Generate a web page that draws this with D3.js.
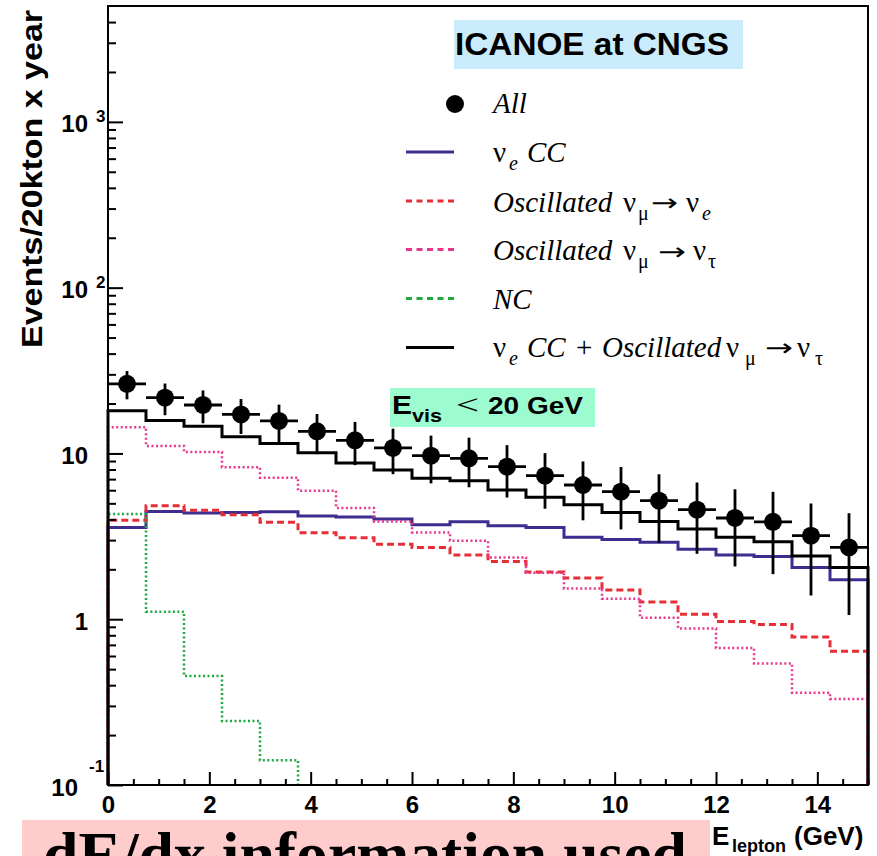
<!DOCTYPE html>
<html>
<head>
<meta charset="utf-8">
<script src="https://cdn.jsdelivr.net/npm/d3@7"></script>
<style>
  html, body { margin: 0; padding: 0; background: #fff; }
  svg { display: block; }
</style>
</head>
<body>
<script>
// ---------------- DATA ----------------
const binEdges = [0, 0.75, 1.5, 2.25, 3, 3.75, 4.5, 5.25, 6, 6.75, 7.5, 8.25, 9, 9.75, 10.5, 11.25, 12, 12.75, 13.5, 14.25, 15];
const allValues = [26.3, 21.7, 19.6, 17.2, 15.7, 13.6, 12.0, 10.8, 9.7, 9.35, 8.32, 7.34, 6.45, 5.88, 5.19, 4.58, 4.08, 3.87, 3.19, 2.71];
const allErrors = [5.1, 4.7, 4.4, 4.1, 4.0, 3.7, 3.5, 3.3, 3.1, 3.1, 2.9, 2.7, 2.5, 2.4, 2.3, 2.1, 2.0, 2.0, 1.8, 1.65];
const nueCC = [3.58, 4.47, 4.37, 4.41, 4.45, 4.19, 4.13, 4.02, 3.71, 3.87, 3.66, 3.58, 3.12, 3.03, 2.91, 2.64, 2.44, 2.39, 2.05, 1.73];
const oscNumuNue = [3.95, 4.84, 4.54, 4.27, 3.84, 3.32, 3.10, 2.83, 2.71, 2.44, 2.23, 1.93, 1.77, 1.50, 1.27, 1.07, 0.97, 0.93, 0.78, 0.64];
const oscNumuNutau = [14.4, 11.1, 10.2, 8.25, 7.14, 5.96, 4.69, 3.89, 3.34, 2.97, 2.36, 1.91, 1.53, 1.33, 1.02, 0.88, 0.67, 0.54, 0.36, 0.33];
const ncValues = [4.31, 1.11, 0.454, 0.243, 0.141, 0, 0, 0, 0, 0, 0, 0, 0, 0, 0, 0, 0, 0, 0, 0];
const nueCCplusNutau = [18.1, 15.8, 14.6, 12.6, 11.5, 10.1, 8.76, 7.95, 7.08, 6.85, 6.02, 5.44, 4.91, 4.41, 3.89, 3.50, 3.12, 2.93, 2.41, 2.05];

const xTickValues = [0, 2, 4, 6, 8, 10, 12, 14];
const xTickLabels = ["0", "2", "4", "6", "8", "10", "12", "14"];
const yTickValues = [0.1, 1, 10, 100, 1000];
const yTickBase = ["10", "1", "10", "10", "10"];
const yTickExp = ["-1", "", "", "2", "3"];

const titleText = "ICANOE at CNGS";
const yAxisTitle = "Events/20kton x year";
const bottomText = "dE/dx information used";

// ---------------- LAYOUT ----------------
const W = 877, H = 856;
const SANS = "'Liberation Sans', Arial, Helvetica, sans-serif";
const SERIF = "'Liberation Serif', 'Times New Roman', serif";
const pL = 108, pR = 868, pT = 6, pB = 785;

const svg = d3.select("body").append("svg")
  .attr("width", W).attr("height", H)
  .attr("viewBox", `0 0 ${W} ${H}`);
svg.append("rect").attr("width", W).attr("height", H).attr("fill", "#fff");

const x = d3.scaleLinear().domain([0, 15]).range([pL, pR]);
const y = d3.scaleLog().domain([0.1, 5000]).range([pB, pT]);
const yv = v => v > 0 ? y(v) : pB + 30;

svg.append("defs").append("clipPath").attr("id", "plotclip")
  .append("rect").attr("x", pL - 2).attr("y", pT).attr("width", pR - pL + 4).attr("height", pB - pT);

// ---------------- HISTOGRAMS ----------------
function histPoints(vals) {
  const pts = [[x(binEdges[0]), pB + 30]];
  vals.forEach((v, i) => {
    pts.push([x(binEdges[i]), yv(v)]);
    pts.push([x(binEdges[i + 1]), yv(v)]);
  });
  pts.push([x(binEdges[binEdges.length - 1]), pB + 30]);
  return pts;
}
const line = d3.line();
const plot = svg.append("g").attr("clip-path", "url(#plotclip)");

const series = [
  { vals: nueCC, color: "#3f2c8e", width: 3, dash: null },
  { vals: oscNumuNue, color: "#e62e36", width: 3, dash: "7,4" },
  { vals: oscNumuNutau, color: "#e8358e", width: 2.5, dash: "2,2.5" },
  { vals: ncValues, color: "#1fa83f", width: 2.5, dash: "2,2.5" },
  { vals: nueCCplusNutau, color: "#000", width: 3, dash: null }
];
series.forEach(s => {
  plot.append("path")
    .attr("d", line(histPoints(s.vals)))
    .attr("fill", "none")
    .attr("stroke", s.color)
    .attr("stroke-width", s.width)
    .attr("stroke-dasharray", s.dash)
    .attr("stroke-linejoin", "miter");
});

// ---------------- DATA POINTS ----------------
const ptsG = plot.append("g");
allValues.forEach((v, i) => {
  const lo = binEdges[i], hi = binEdges[i + 1], c = (lo + hi) / 2;
  ptsG.append("line").attr("x1", x(lo)).attr("x2", x(hi)).attr("y1", y(v)).attr("y2", y(v))
    .attr("stroke", "#000").attr("stroke-width", 2.8);
  ptsG.append("line").attr("x1", x(c)).attr("x2", x(c)).attr("y1", y(v + allErrors[i])).attr("y2", y(v - allErrors[i]))
    .attr("stroke", "#000").attr("stroke-width", 2.8);
  ptsG.append("circle").attr("cx", x(c)).attr("cy", y(v)).attr("r", 9).attr("fill", "#000");
});

// ---------------- AXES ----------------
const axisStyle = g => {
  g.select(".domain").remove();
  g.selectAll(".tick line").attr("stroke", "#000").attr("stroke-width", 2);
};
const xMinor = d3.range(0, 15.01, 0.5).filter(v => v % 2 !== 0);
svg.append("g").attr("transform", `translate(0,${pB})`)
  .call(d3.axisBottom(x).tickValues(xMinor).tickSize(-6).tickFormat(""))
  .call(axisStyle);
svg.append("g").attr("transform", `translate(0,${pB})`)
  .call(d3.axisBottom(x).tickValues(xTickValues).tickSize(-13).tickPadding(11)
    .tickFormat((d, i) => xTickLabels[i]))
  .call(axisStyle)
  .call(g => g.selectAll("text").attr("font-family", SANS).attr("font-weight", "bold")
    .attr("font-size", 24).attr("fill", "#000"));

const yMinor = [];
[0.1, 1, 10, 100, 1000].forEach(d => { for (let k = 2; k <= 9; k++) if (d * k < 5000) yMinor.push(d * k); });
svg.append("g").attr("transform", `translate(${pL},0)`)
  .call(d3.axisLeft(y).tickValues(yMinor).tickSize(-8).tickFormat(""))
  .call(axisStyle);
svg.append("g").attr("transform", `translate(${pL},0)`)
  .call(d3.axisLeft(y).tickValues(yTickValues).tickSize(-15).tickFormat(""))
  .call(axisStyle);

yTickValues.forEach((v, i) => {
  const ty = y(v);
  const isMin = v === y.domain()[0];
  svg.append("text").attr("x", isMin ? 78 : 88).attr("y", ty + 10.5)
    .attr("text-anchor", "end").attr("font-family", SANS).attr("font-weight", "bold")
    .attr("font-size", 24).text(yTickBase[i]);
  if (yTickExp[i]) {
    svg.append("text").attr("x", isMin ? 89 : 96).attr("y", isMin ? ty - 13 : ty + 0.5)
      .attr("font-family", SANS).attr("font-weight", "bold")
      .attr("font-size", 17).text(yTickExp[i]);
  }
});

svg.append("rect").attr("x", pL).attr("y", pT).attr("width", pR - pL).attr("height", pB - pT)
  .attr("fill", "none").attr("stroke", "#000").attr("stroke-width", 2);

svg.append("text").attr("transform", `translate(41.5,${(10 + 348) / 2}) rotate(-90)`)
  .attr("text-anchor", "middle").attr("font-family", SANS).attr("font-weight", "bold")
  .attr("font-size", 29).attr("textLength", 338).attr("lengthAdjust", "spacingAndGlyphs")
  .text(yAxisTitle);

const xt = svg.append("text").attr("font-family", SANS).attr("font-weight", "bold").attr("fill", "#000");
xt.append("tspan").attr("x", 712).attr("y", 845).attr("font-size", 26).text("E");
xt.append("tspan").attr("x", 732).attr("y", 852).attr("font-size", 18).text("lepton");
xt.append("tspan").attr("x", 794).attr("y", 845).attr("font-size", 26).text("(GeV)");

// ---------------- TITLE BOX ----------------
svg.append("rect").attr("x", 454).attr("y", 20).attr("width", 289).attr("height", 49).attr("fill", "#c9ebfb");
svg.append("text").attr("x", 455).attr("y", 54.5).attr("font-family", SANS).attr("font-weight", "bold")
  .attr("font-size", 32).attr("textLength", 274).attr("lengthAdjust", "spacingAndGlyphs").text(titleText);

// ---------------- Evis BOX ----------------
svg.append("rect").attr("x", 390).attr("y", 388).attr("width", 205).attr("height", 39).attr("fill", "#9cfccf");
svg.append("text").attr("x", 392).attr("y", 413.5).attr("font-family", SANS).attr("font-weight", "bold")
  .attr("font-size", 25).attr("textLength", 20).attr("lengthAdjust", "spacingAndGlyphs").text("E");
svg.append("text").attr("x", 412).attr("y", 422).attr("font-family", SANS).attr("font-weight", "bold")
  .attr("font-size", 19).attr("textLength", 30).attr("lengthAdjust", "spacingAndGlyphs").text("vis");
svg.append("text").attr("x", 456).attr("y", 414).attr("font-family", SERIF)
  .attr("font-size", 28).attr("textLength", 23).attr("lengthAdjust", "spacingAndGlyphs").text("<");
svg.append("text").attr("x", 488).attr("y", 413.5).attr("font-family", SANS).attr("font-weight", "bold")
  .attr("font-size", 23).attr("textLength", 95).attr("lengthAdjust", "spacingAndGlyphs").text("20 GeV");

// ---------------- LEGEND ----------------
const lg = svg.append("g");
lg.append("circle").attr("cx", 455).attr("cy", 104).attr("r", 9).attr("fill", "#000");
const legLines = [
  { y: 152, color: "#3f2c8e", dash: null },
  { y: 201, color: "#e62e36", dash: "6,4.5" },
  { y: 249.5, color: "#e8358e", dash: "6,4.5" },
  { y: 298.5, color: "#1fa83f", dash: "6,4.5" },
  { y: 347.5, color: "#000", dash: null }
];
legLines.forEach(l => {
  lg.append("line").attr("x1", 406).attr("x2", 454).attr("y1", l.y).attr("y2", l.y)
    .attr("stroke", l.color).attr("stroke-width", 3).attr("stroke-dasharray", l.dash);
});
function part(txt, px, py, size, italic) {
  lg.append("text").attr("x", px).attr("y", py).attr("font-family", SERIF)
    .attr("font-size", size).attr("font-style", italic ? "italic" : "normal").text(txt);
}
function arrow(px, py, len) {
  lg.append("text").attr("x", px).attr("y", py).attr("font-family", "'DejaVu Sans', sans-serif")
    .attr("font-size", 24).attr("textLength", len).attr("lengthAdjust", "spacingAndGlyphs").text("\u2192");
}
part("All", 493, 113, 29, true);
part("\u03BD", 493, 162, 29, false); part("e", 509, 170, 20, true); part("CC", 527, 162, 29, true);
part("Oscillated", 493, 211.5, 29, true); part("\u03BD", 623, 211.5, 29, false);
part("\u03BC", 638, 219.5, 20, false); arrow(651, 211, 27);
part("\u03BD", 686, 211.5, 29, false); part("e", 702, 219.5, 20, true);
part("Oscillated", 493, 260, 29, true); part("\u03BD", 623, 260, 29, false);
part("\u03BC", 638, 268, 20, false); arrow(658, 259.5, 28);
part("\u03BD", 693, 260, 29, false); part("\u03C4", 708, 268, 20, false);
part("NC", 493, 308.5, 29, true);
part("\u03BD", 493, 356.5, 29, false); part("e", 509, 364.5, 20, true); part("CC", 527, 356.5, 29, true);
part("+", 576, 356.5, 29, false); part("Oscillated", 602, 356.5, 29, true);
part("\u03BD", 726, 356.5, 29, false); part("\u03BC", 745, 364.5, 20, false);
arrow(765, 356, 28); part("\u03BD", 797, 356.5, 29, false);
part("\u03C4", 815, 364.5, 20, false);

// ---------------- BOTTOM BANNER ----------------
svg.append("rect").attr("x", 22).attr("y", 820).attr("width", 688).attr("height", 40).attr("fill", "#ffcccc");
svg.append("text").attr("x", 43).attr("y", 876).attr("font-family", SERIF).attr("font-weight", "bold")
  .attr("font-size", 64).attr("textLength", 644).attr("lengthAdjust", "spacingAndGlyphs").text(bottomText);
</script>
</body>
</html>
